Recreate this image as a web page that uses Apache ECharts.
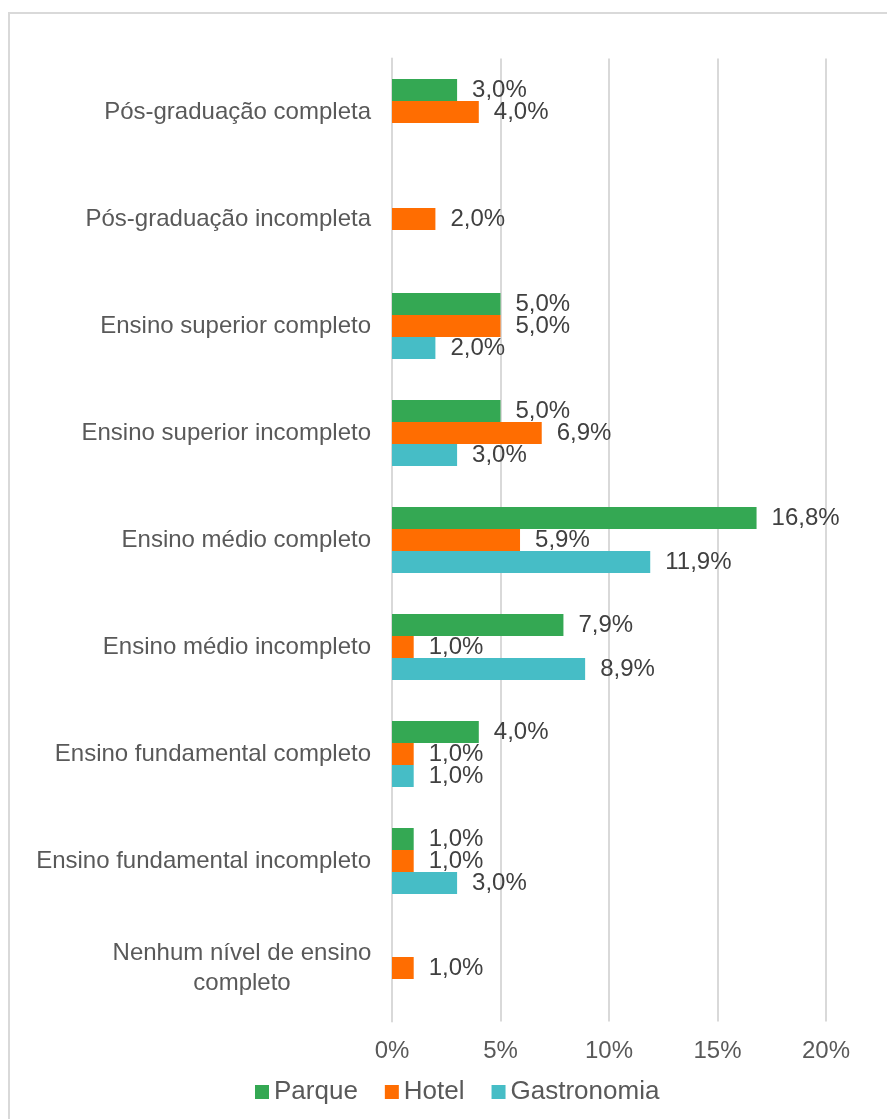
<!DOCTYPE html>
<html>
<head>
<meta charset="utf-8">
<script src="https://cdn.jsdelivr.net/npm/echarts@6/dist/echarts.min.js"></script>
<style>
  html, body { margin: 0; padding: 0; background: #fff; }
  #chart { width: 887px; height: 1119px; }
</style>
</head>
<body>
<div id="chart"></div>
<script>
const categories = [
  'Pós-graduação completa',
  'Pós-graduação incompleta',
  'Ensino superior completo',
  'Ensino superior incompleto',
  'Ensino médio completo',
  'Ensino médio incompleto',
  'Ensino fundamental completo',
  'Ensino fundamental incompleto',
  'Nenhum nível de ensino completo'
]
const parque = [3.0, null, 5.0, 5.0, 16.8, 7.9, 4.0, 1.0, null]
const hotel = [4.0, 2.0, 5.0, 6.9, 5.9, 1.0, 1.0, 1.0, 1.0]
const gastronomia = [null, null, 2.0, 3.0, 11.9, 8.9, 1.0, 3.0, null]
const ticks = [0, 5, 10, 15, 20]

const font = 'Liberation Sans, Arial, sans-serif'
const fmt = (p) => p.value == null ? '' : p.value.toFixed(1).replace('.', ',') + '%'

const mkSeries = (name, color, data) => ({
  name: name,
  type: 'bar',
  data: data,
  barWidth: 22,
  barGap: '0%',
  itemStyle: { color: color },
  label: {
    show: true,
    position: 'right',
    distance: 15,
    color: '#404040',
    fontSize: 24,
    fontFamily: font,
    formatter: fmt
  }
})

const chart = echarts.init(document.getElementById('chart'))
chart.setOption({
  animation: false,
  textStyle: { fontFamily: font },
  graphic: [{
    type: 'rect',
    shape: { x: 9, y: 13, width: 950, height: 1200 },
    style: { fill: 'none', stroke: '#d9d9d9', lineWidth: 2 }
  }],
  grid: { left: 392, right: 61, top: 58.5, bottom: 97.5 },
  legend: {
    top: 1074,
    left: 250,
    icon: 'rect',
    itemWidth: 14,
    itemHeight: 14,
    itemGap: 27,
    textStyle: { fontSize: 26, color: '#595959', fontFamily: font }
  },
  xAxis: {
    type: 'value',
    min: 0,
    max: 20,
    interval: 5,
    axisLine: { show: false },
    axisTick: { show: false },
    splitLine: { lineStyle: { color: '#d9d9d9', width: 2 } },
    axisLabel: {
      margin: 18,
      fontSize: 24,
      color: '#595959',
      fontFamily: font,
      formatter: (v) => ticks.includes(v) ? v + '%' : ''
    }
  },
  yAxis: {
    type: 'category',
    inverse: true,
    data: categories,
    axisLine: { lineStyle: { color: '#d9d9d9', width: 2 } },
    axisTick: { show: false },
    axisLabel: {
      margin: 21,
      fontSize: 24,
      color: '#595959',
      fontFamily: font,
      formatter: (v) => v === 'Nenhum nível de ensino completo'
        ? '{c|Nenhum nível de ensino}\n{c|completo}'
        : v,
      rich: {
        c: { fontSize: 24, color: '#595959', fontFamily: font, width: 258, align: 'center', lineHeight: 30 }
      }
    }
  },
  series: [
    mkSeries('Parque', '#34A853', parque),
    mkSeries('Hotel', '#FF6D01', hotel),
    mkSeries('Gastronomia', '#46BDC6', gastronomia)
  ]
})
</script>
</body>
</html>
